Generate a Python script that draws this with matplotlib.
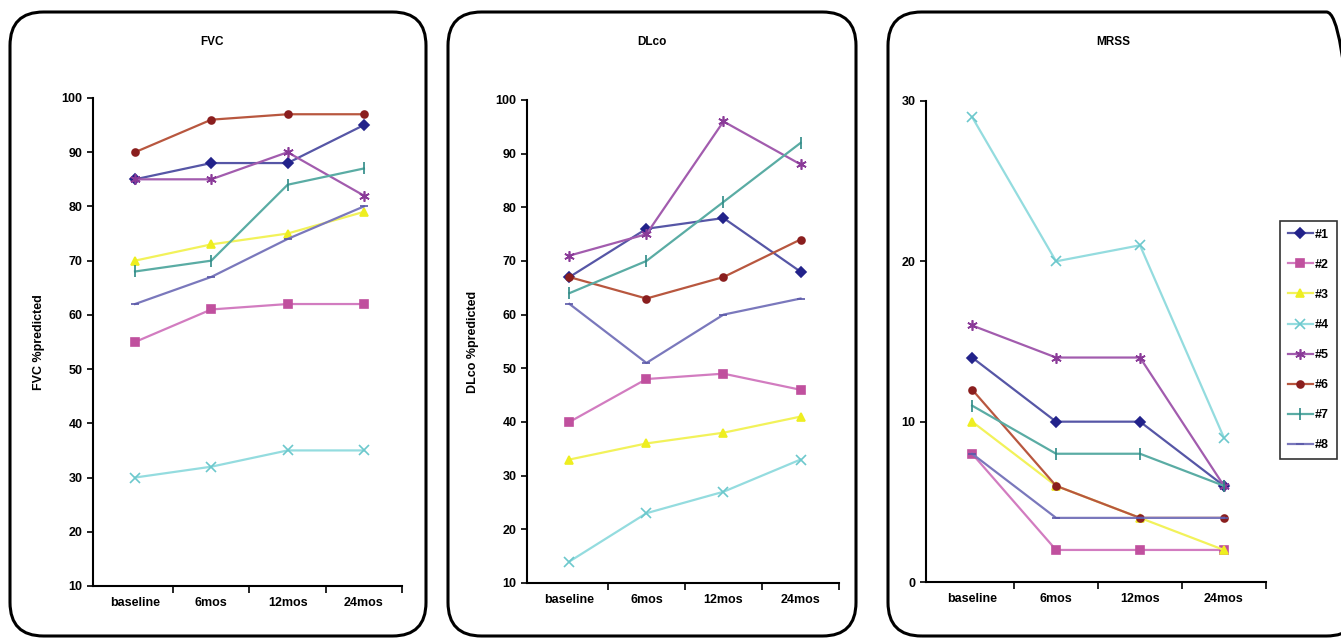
import numpy as np
import matplotlib
matplotlib.use("Agg")
import matplotlib.pyplot as plt
from matplotlib.patches import FancyBboxPatch

plt.rcParams['font.family'] = ['Liberation Sans', 'DejaVu Sans']

visits = ['baseline', '6mos', '12mos', '24mos']
patients = ['#1', '#2', '#3', '#4', '#5', '#6', '#7', '#8']

fvc = [[85, 88, 88, 95],
       [55, 61, 62, 62],
       [70, 73, 75, 79],
       [30, 32, 35, 35],
       [85, 85, 90, 82],
       [90, 96, 97, 97],
       [68, 70, 84, 87],
       [62, 67, 74, 80]]

dlco = [[67, 76, 78, 68],
        [40, 48, 49, 46],
        [33, 36, 38, 41],
        [14, 23, 27, 33],
        [71, 75, 96, 88],
        [67, 63, 67, 74],
        [64, 70, 81, 92],
        [62, 51, 60, 63]]

mrss = [[14, 10, 10, 6],
        [8, 2, 2, 2],
        [10, 6, 4, 2],
        [29, 20, 21, 9],
        [16, 14, 14, 6],
        [12, 6, 4, 4],
        [11, 8, 8, 6],
        [8, 4, 4, 4]]

# excel-ish series styles (washed out like the scan)
line_colors = ['#5656a6', '#d27cc0', '#f2f25a', '#94dcdf', '#a25cae', '#b8573f', '#5aaca4', '#7a78bc']
mark_colors = ['#22228a', '#c0509e', '#eeee20', '#6cc8cc', '#8a3a98', '#8a1e1e', '#2e8a86', '#5a58a8']
markers = ['D', 's', '^', 'x', (6, 2, 0), 'o', '|', '_']
msizes = [5, 5.5, 6, 6.5, 7.5, 5, 8, 6]

fig = plt.figure(figsize=(13.41, 6.4), dpi=100)

# rounded panel frames
for x0, x1 in [(10, 426), (448, 856), (888, 1360)]:
    box = FancyBboxPatch((x0 / 1341, 4 / 640), (x1 - x0) / 1341, (628 - 4) / 640,
                         boxstyle="round,pad=0,rounding_size=0.025",
                         transform=fig.transFigure, fill=False, ec='black', lw=2.2,
                         mutation_aspect=2.1)
    fig.patches.append(box)

panels = [
    ('FVC', fvc, [0.0694, 0.0844, 0.2304, 0.7625], (10, 100), np.arange(10, 101, 10), 'FVC %predicted', 212),
    ('DLco', dlco, [0.3930, 0.0891, 0.2327, 0.7547], (10, 100), np.arange(10, 101, 10), 'DLco %predicted', 652),
    ('MRSS', mrss, [0.6905, 0.0906, 0.2535, 0.7516], (0, 30), np.arange(0, 31, 10), None, 1113),
]

x = np.arange(len(visits))
for title, data, pos, ylim, yt, ylab, tx in panels:
    ax = fig.add_axes(pos)
    for i, row in enumerate(data):
        ax.plot(x, row, color=line_colors[i], lw=1.6, marker=markers[i], ms=msizes[i],
                mfc=mark_colors[i], mec=mark_colors[i], mew=1.2, label=patients[i])
    ax.set_xlim(-0.55, 3.5)
    ax.set_ylim(*ylim)
    ax.set_yticks(yt)
    ax.set_xticks(x)
    ax.set_xticklabels(visits)
    ax.set_xticks([0.5, 1.5, 2.5, 3.5], minor=True)
    ax.tick_params(axis='x', which='major', length=0, pad=8)
    ax.tick_params(axis='x', which='minor', length=5, width=1.2)
    ax.tick_params(axis='y', length=4, width=1.2)
    for lab in ax.get_xticklabels() + ax.get_yticklabels():
        lab.set_fontsize(9)
        lab.set_fontweight('bold')
    ax.spines['top'].set_visible(False)
    ax.spines['right'].set_visible(False)
    ax.spines['left'].set_linewidth(1.5)
    ax.spines['bottom'].set_linewidth(1.5)
    if ylab:
        ax.set_ylabel(ylab, fontsize=9, fontweight='bold', labelpad=12)
    fig.text(tx / 1341, 1 - 42 / 640, title, ha='center', va='center', fontsize=8.5, fontweight='bold')

handles, labels = ax.get_legend_handles_labels()
leg = fig.legend(handles, labels, loc='upper left', bbox_to_anchor=(1280 / 1341, 1 - 221 / 640),
                 frameon=True, fancybox=False, edgecolor='black', fontsize=9,
                 handlelength=2.0, labelspacing=1.45, borderpad=0.6, handletextpad=0.2,
                 borderaxespad=0)
leg.get_frame().set_linewidth(1.2)
for t in leg.get_texts():
    t.set_fontweight('bold')

fig.savefig('out.png', dpi=100)
